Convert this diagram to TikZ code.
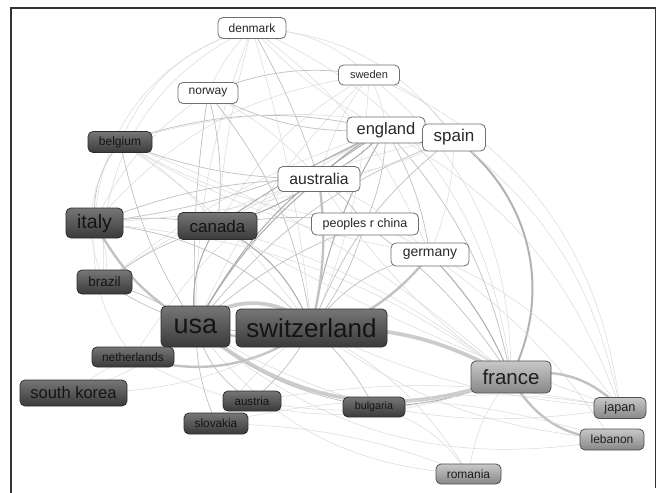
\documentclass[tikz,border=0pt]{standalone}
\usepackage{fontspec}
\setmainfont{Liberation Sans}
\usetikzlibrary{backgrounds}
\definecolor{dktop}{RGB}{118,118,118}
\definecolor{dkbot}{RGB}{58,58,58}
\definecolor{ltop}{RGB}{200,200,200}
\definecolor{lbot}{RGB}{135,135,135}
\definecolor{frcol}{RGB}{50,50,50}
\tikzset{
  cbox/.style={rounded corners=5pt, inner sep=0pt, line width=0.8pt, align=center},
  dk/.style={cbox, draw={rgb,255:red,45;green,45;blue,45}, top color=dktop, bottom color=dkbot, text={rgb,255:red,20;green,20;blue,20}},
  lt/.style={cbox, draw={rgb,255:red,80;green,80;blue,80}, top color=ltop, bottom color=lbot, text={rgb,255:red,30;green,30;blue,30}},
  wt/.style={cbox, draw={rgb,255:red,110;green,110;blue,110}, fill=white, text={rgb,255:red,40;green,40;blue,40}},
  sz/.style n args={3}{minimum width=#1pt, minimum height=#2pt, font=\fontsize{#3}{#3}\selectfont},
  ew/.style={draw=black!15, line width=0.5pt},
  em/.style={draw=black!25, line width=0.7pt},
  es/.style={draw=black!33, line width=1pt},
  et/.style={draw=black!24, line width=2.4pt},
  eT/.style={draw=black!20, line width=3.8pt}
}
\newcommand{\ed}[4]{\draw[#1] (#2.center) to[#4] (#3.center);}
\begin{document}
\begin{tikzpicture}[x=1pt,y=-1pt]
\useasboundingbox (0,0) rectangle (657,493);
\draw[frcol, line width=1.2pt] (11,493) -- (11,8) -- (655.5,8) -- (655.5,488);
% nodes
\node[wt, sz={68}{21}{12}] (denmark) at (252,28) {denmark};
\node[wt, sz={61}{20}{11}] (sweden) at (369,75) {sweden};
\node[wt, sz={60}{21}{12}] (norway) at (208,93) {norway};
\node[dk, sz={64}{21}{12}] (belgium) at (120,142) {belgium};
\node[wt, sz={78}{26}{16.5}] (england) at (386,130) {england};
\node[wt, sz={63}{27}{17}] (spain) at (454,137.5) {spain};
\node[wt, sz={82}{25}{15.7}] (australia) at (319,179) {australia};
\node[dk, sz={57}{30}{19.5}] (italy) at (94.5,223) {italy};
\node[dk, sz={79}{27}{17}] (canada) at (217.5,226) {canada};
\node[wt, sz={107}{22}{12.5}] (china) at (365,224) {peoples r china};
\node[wt, sz={78}{23}{14}] (germany) at (430,254.5) {germany};
\node[dk, sz={55}{24}{13.5}] (brazil) at (104.5,282) {brazil};
\node[dk, sz={69}{41}{27}] (usa) at (195.5,326.5) {usa};
\node[dk, sz={151}{38}{26}] (switzerland) at (311.5,328) {switzerland};
\node[dk, sz={82}{20}{11.8}] (netherlands) at (133,357) {netherlands};
\node[dk, sz={107}{26}{16.5}] (skorea) at (73.5,393) {south korea};
\node[lt, sz={80}{32}{20.5}] (france) at (511,377) {france};
\node[dk, sz={58}{20}{11.6}] (austria) at (252,401) {austria};
\node[dk, sz={64}{21}{11.8}] (slovakia) at (216,423.5) {slovakia};
\node[dk, sz={62}{20}{10.7}] (bulgaria) at (374,407) {bulgaria};
\node[lt, sz={52}{21}{12.7}] (japan) at (620,408) {japan};
\node[lt, sz={64}{21}{12}] (lebanon) at (612,439.5) {lebanon};
\node[lt, sz={65}{20}{12}] (romania) at (468.5,474) {romania};
\begin{scope}[on background layer]
\ed{ew}{denmark}{sweden}{bend left=20}
\ed{ew}{denmark}{spain}{bend left=25}
\ed{ew}{denmark}{norway}{bend right=10}
\ed{ew}{denmark}{belgium}{bend right=25}
\ed{ew}{denmark}{italy}{bend right=35}
\ed{ew}{denmark}{brazil}{bend right=35}
\ed{ew}{denmark}{canada}{bend right=5}
\ed{ew}{denmark}{usa}{bend right=10}
\ed{ew}{denmark}{switzerland}{bend left=5}
\ed{ew}{denmark}{england}{bend right=10}
\ed{em}{denmark}{australia}{bend left=5}
\ed{ew}{denmark}{germany}{bend left=15}
\ed{ew}{denmark}{france}{bend left=30}
\ed{em}{sweden}{norway}{bend right=15}
\ed{ew}{sweden}{england}{bend left=10}
\ed{ew}{sweden}{spain}{bend left=20}
\ed{ew}{sweden}{switzerland}{bend left=10}
\ed{ew}{sweden}{usa}{bend right=10}
\ed{ew}{sweden}{canada}{bend right=15}
\ed{ew}{sweden}{italy}{bend right=20}
\ed{ew}{sweden}{france}{bend left=25}
\ed{ew}{sweden}{japan}{bend left=30}
\ed{ew}{sweden}{australia}{bend right=10}
\ed{em}{norway}{england}{bend right=15}
\ed{em}{norway}{canada}{bend left=10}
\ed{em}{norway}{usa}{bend right=5}
\ed{em}{norway}{switzerland}{bend left=15}
\ed{ew}{norway}{australia}{bend left=10}
\ed{ew}{norway}{italy}{bend right=15}
\ed{em}{belgium}{england}{bend left=15}
\ed{em}{belgium}{australia}{bend right=10}
\ed{em}{belgium}{usa}{bend right=10}
\ed{ew}{belgium}{switzerland}{bend left=10}
\ed{ew}{belgium}{canada}{bend left=10}
\ed{em}{belgium}{italy}{bend right=20}
\ed{ew}{belgium}{brazil}{bend right=30}
\ed{ew}{belgium}{france}{bend left=10}
\ed{ew}{belgium}{spain}{bend left=15}
\ed{ew}{belgium}{germany}{bend right=10}
\ed{ew}{belgium}{china}{bend right=10}
\ed{es}{england}{australia}{bend right=10}
\ed{es}{england}{australia}{bend left=10}
\ed{es}{england}{switzerland}{bend right=10}
\ed{es}{england}{usa}{bend right=15}
\ed{es}{england}{canada}{bend right=5}
\ed{em}{england}{italy}{bend left=10}
\ed{em}{england}{china}{bend left=10}
\ed{em}{england}{germany}{bend left=10}
\ed{em}{england}{france}{bend left=15}
\ed{ew}{england}{spain}{bend left=30}
\ed{ew}{england}{netherlands}{bend right=15}
\ed{ew}{england}{brazil}{bend right=10}
\ed{ew}{england}{japan}{bend left=20}
\draw[draw=black!30, line width=2pt] (spain.center) to[bend left=40] (france.center);
\ed{em}{spain}{switzerland}{bend right=15}
\ed{em}{spain}{usa}{bend right=15}
\ed{ew}{spain}{italy}{bend left=10}
\ed{ew}{spain}{canada}{bend right=10}
\ed{ew}{spain}{australia}{bend left=10}
\ed{ew}{spain}{germany}{bend left=10}
\ed{ew}{spain}{japan}{bend left=20}
\ed{es}{australia}{canada}{bend left=10}
\ed{es}{australia}{usa}{bend right=10}
\ed{et}{australia}{switzerland}{bend left=10}
\ed{em}{australia}{china}{bend left=10}
\ed{em}{australia}{italy}{bend right=10}
\ed{ew}{australia}{germany}{bend left=10}
\ed{ew}{australia}{france}{bend right=10}
\ed{ew}{australia}{brazil}{bend right=10}
\ed{em}{italy}{canada}{bend left=10}
\ed{et}{italy}{usa}{bend right=15}
\ed{em}{italy}{switzerland}{bend left=20}
\ed{ew}{italy}{brazil}{bend left=20}
\ed{ew}{italy}{france}{bend left=15}
\ed{ew}{italy}{netherlands}{bend right=20}
\ed{es}{canada}{usa}{bend right=20}
\ed{es}{canada}{switzerland}{bend left=20}
\ed{em}{canada}{china}{bend left=10}
\ed{ew}{canada}{france}{bend left=10}
\ed{em}{canada}{brazil}{bend right=10}
\ed{ew}{canada}{japan}{bend right=5}
\ed{em}{china}{usa}{bend right=10}
\ed{em}{china}{switzerland}{bend left=10}
\ed{ew}{china}{germany}{bend left=10}
\ed{em}{china}{france}{bend left=10}
\ed{em}{germany}{switzerland}{bend right=20}
\ed{et}{germany}{usa}{bend left=35}
\ed{es}{germany}{france}{bend left=10}
\ed{ew}{germany}{japan}{bend left=15}
\ed{ew}{germany}{lebanon}{bend left=10}
\ed{em}{brazil}{usa}{bend left=10}
\ed{em}{brazil}{switzerland}{bend right=20}
\ed{eT}{usa}{switzerland}{bend left=45}
\ed{eT}{usa}{france}{bend right=30}
\ed{em}{usa}{netherlands}{bend left=15}
\ed{ew}{usa}{skorea}{bend left=10}
\ed{em}{usa}{austria}{bend right=20}
\ed{em}{usa}{slovakia}{bend right=10}
\ed{em}{usa}{bulgaria}{bend right=15}
\ed{ew}{usa}{japan}{bend right=20}
\ed{ew}{usa}{romania}{bend right=25}
\ed{ew}{usa}{lebanon}{bend right=25}
\ed{eT}{switzerland}{france}{bend left=15}
\ed{em}{switzerland}{austria}{bend left=10}
\ed{ew}{switzerland}{slovakia}{bend right=10}
\ed{em}{switzerland}{bulgaria}{bend left=10}
\ed{et}{switzerland}{netherlands}{bend left=25}
\ed{ew}{switzerland}{japan}{bend right=10}
\ed{ew}{switzerland}{lebanon}{bend right=15}
\ed{ew}{switzerland}{romania}{bend left=15}
\ed{ew}{switzerland}{skorea}{bend left=15}
\ed{et}{france}{japan}{bend left=30}
\ed{et}{france}{lebanon}{bend right=30}
\ed{es}{france}{bulgaria}{bend left=10}
\ed{ew}{france}{romania}{bend right=15}
\ed{ew}{france}{austria}{bend left=15}
\ed{ew}{bulgaria}{romania}{bend left=20}
\ed{ew}{bulgaria}{japan}{bend left=10}
\ed{ew}{slovakia}{lebanon}{bend left=15}
\ed{ew}{skorea}{netherlands}{bend left=10}
\ed{ew}{romania}{slovakia}{bend right=10}
\ed{ew}{japan}{austria}{bend right=10}
\ed{ew}{netherlands}{france}{bend right=25}
\end{scope}
\end{tikzpicture}
\end{document}
